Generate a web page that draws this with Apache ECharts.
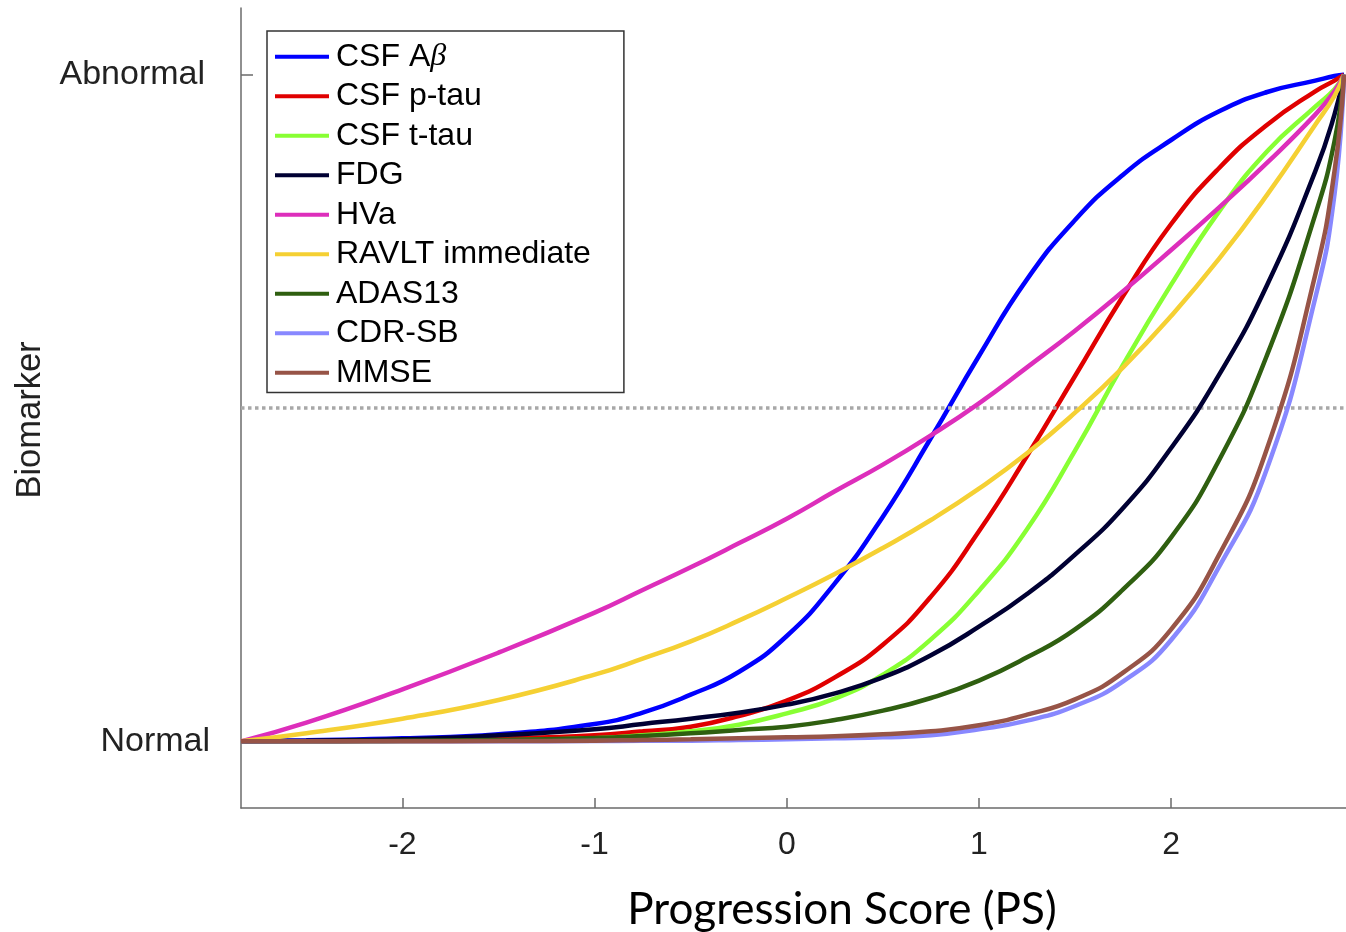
<!DOCTYPE html>
<html>
<head>
<meta charset="utf-8">
<title>Biomarker trajectories vs Progression Score</title>
<script src="https://cdn.jsdelivr.net/npm/echarts@6/dist/echarts.min.js"></script>
<style>
  html, body { margin: 0; padding: 0; background: #fff; }
  #chart { width: 1346px; height: 932px; }
</style>
</head>
<body>
<div id="chart"></div>
<script>
// Progression Score sample positions
const PS = [-2.84, -2.5, -2, -1.5, -1, -0.75, -0.5, -0.25, 0, 0.25, 0.5, 0.75, 1, 1.25, 1.5, 1.75, 2, 2.25, 2.5, 2.75, 2.85, 2.9];

// Normalised biomarker level (0 = normal, 1 = abnormal) at each PS position
const csfAbeta   = [0, 0.0015, 0.0045, 0.0105, 0.026, 0.043, 0.070, 0.104, 0.158, 0.237, 0.337, 0.455, 0.578, 0.693, 0.782, 0.850, 0.902, 0.945, 0.974, 0.991, 0.998, 1.0];
const csfPtau    = [0, 0, 0.0015, 0.004, 0.009, 0.015, 0.022, 0.038, 0.061, 0.096, 0.145, 0.217, 0.315, 0.428, 0.548, 0.668, 0.776, 0.860, 0.925, 0.975, 0.991, 1.0];
const csfTtau    = [0, 0, 0.0005, 0.0015, 0.0045, 0.009, 0.015, 0.025, 0.042, 0.064, 0.100, 0.153, 0.226, 0.318, 0.436, 0.565, 0.685, 0.795, 0.885, 0.952, 0.978, 1.0];
const fdg        = [0, 0.001, 0.003, 0.009, 0.018, 0.026, 0.034, 0.043, 0.055, 0.072, 0.096, 0.129, 0.172, 0.221, 0.280, 0.350, 0.440, 0.550, 0.685, 0.855, 0.940, 1.0];
const hva        = [0, 0.028, 0.078, 0.133, 0.193, 0.227, 0.261, 0.297, 0.334, 0.375, 0.415, 0.459, 0.507, 0.561, 0.616, 0.675, 0.737, 0.801, 0.868, 0.940, 0.975, 1.0];
const ravlt      = [0, 0.012, 0.034, 0.062, 0.100, 0.124, 0.150, 0.181, 0.215, 0.251, 0.290, 0.332, 0.379, 0.432, 0.493, 0.561, 0.638, 0.724, 0.820, 0.925, 0.968, 1.0];
const adas13     = [0, 0, 0.001, 0.002, 0.005, 0.008, 0.012, 0.017, 0.022, 0.032, 0.046, 0.065, 0.091, 0.126, 0.168, 0.228, 0.306, 0.422, 0.580, 0.790, 0.900, 1.0];
const cdrsb      = [0, 0, 0, 0, 0.0005, 0.0008, 0.001, 0.002, 0.003, 0.0045, 0.006, 0.009, 0.018, 0.031, 0.053, 0.090, 0.152, 0.262, 0.410, 0.665, 0.820, 1.0];
const mmse       = [0, 0, 0, 0.0005, 0.001, 0.002, 0.003, 0.0045, 0.006, 0.0075, 0.0105, 0.015, 0.024, 0.040, 0.063, 0.103, 0.168, 0.280, 0.440, 0.700, 0.855, 1.0];

const SERIES_NAMES = ['CSF Aβ', 'CSF p-tau', 'CSF t-tau', 'FDG', 'HVa', 'RAVLT immediate', 'ADAS13', 'CDR-SB', 'MMSE'];
const SERIES_VALUES = [csfAbeta, csfPtau, csfTtau, fdg, hva, ravlt, adas13, cdrsb, mmse];
const SERIES_COLORS = ['#0000ff', '#e00000', '#88ff33', '#000033', '#dd2ebb', '#f5d033', '#2f5f10', '#8888ff', '#975447'];

// Axis ticks and labels
const X_TICKS = [-2, -1, 0, 1, 2];
const Y_TICKS = [0, 1];
const Y_TICK_NAMES = ['Normal', 'Abnormal'];
const HALFWAY = 0.5;

const AXIS_COLOR = '#6b6b6b';
const FONT = 'Liberation Sans, Arial, Helvetica, sans-serif';

const series = SERIES_NAMES.map((name, k) => ({
  name: name,
  type: 'line',
  data: PS.map((x, i) => [x, SERIES_VALUES[k][i]]),
  smooth: 0.5,
  showSymbol: false,
  symbol: 'none',
  lineStyle: { width: 4.5, color: SERIES_COLORS[k] },
  itemStyle: { color: SERIES_COLORS[k] },
  z: 3 + k
}));

// Dotted midpoint reference line
series.unshift({
  name: 'midpoint',
  type: 'line',
  data: [],
  silent: true,
  markLine: {
    silent: true,
    symbol: ['none', 'none'],
    label: { show: false },
    lineStyle: { color: '#a8a8a8', width: 3.5, type: [3.5, 3.5] },
    data: [{ yAxis: HALFWAY }]
  },
  z: 2
});

const chart = echarts.init(document.getElementById('chart'), null, { renderer: 'canvas' });
chart.setOption({
  animation: false,
  backgroundColor: '#ffffff',
  grid: { left: 241, right: 0, top: 8, bottom: 124, containLabel: false },
  title: {
    text: 'Progression Score (PS)',
    left: 837,
    top: 883,
    textAlign: 'center',
    textStyle: { fontFamily: 'Lato, sans-serif', fontWeight: 'normal', fontSize: 44, color: '#000000' }
  },
  legend: {
    data: SERIES_NAMES,
    orient: 'vertical',
    left: 267,
    top: 31,
    padding: [6, 33, 0, 8],
    itemGap: 0,
    itemWidth: 54,
    itemHeight: 4,
    icon: 'rect',
    borderColor: '#333333',
    borderWidth: 1.5,
    backgroundColor: '#ffffff',
    formatter: function (name) {
      if (name === 'CSF Aβ') return '{t|CSF A}{g|β}';
      return '{t|' + name + '}';
    },
    textStyle: {
      color: '#000000',
      fontFamily: FONT,
      fontSize: 32,
      lineHeight: 39.5,
      padding: [0, 0, 0, 2],
      rich: {
        t: { fontFamily: FONT, fontSize: 32, color: '#000000', lineHeight: 39.5 },
        g: { fontFamily: 'Liberation Serif, DejaVu Serif, serif', fontStyle: 'italic', fontSize: 32, color: '#000000', lineHeight: 39.5 }
      }
    }
  },
  xAxis: {
    type: 'value',
    min: -2.84,
    max: 2.91,
    splitLine: { show: false },
    axisLine: { show: true, onZero: false, lineStyle: { color: AXIS_COLOR, width: 1.5 } },
    axisTick: { show: true, inside: true, length: 10, customValues: X_TICKS, lineStyle: { color: AXIS_COLOR, width: 1.5 } },
    axisLabel: {
      customValues: X_TICKS,
      margin: 21,
      fontFamily: FONT,
      fontSize: 32,
      color: '#222222',
      formatter: v => String(v)
    }
  },
  yAxis: {
    type: 'value',
    min: -0.1,
    max: 1.1,
    name: 'Biomarker',
    nameLocation: 'middle',
    nameGap: 193,
    nameRotate: 90,
    nameTextStyle: { fontFamily: FONT, fontSize: 34.5, color: '#222222', padding: [0, 0, 0, -24] },
    splitLine: { show: false },
    axisLine: { show: true, onZero: false, lineStyle: { color: AXIS_COLOR, width: 1.5 } },
    axisTick: { show: true, inside: true, length: 12, customValues: Y_TICKS, lineStyle: { color: AXIS_COLOR, width: 1.5 } },
    axisLabel: {
      customValues: Y_TICKS,
      margin: 31,
      fontFamily: FONT,
      fontSize: 34,
      color: '#222222',
      formatter: v => v === 1 ? '{a|' + Y_TICK_NAMES[1] + '}' : '{n|' + Y_TICK_NAMES[0] + '}',
      rich: {
        a: { fontFamily: FONT, fontSize: 34, color: '#222222', padding: [0, 5, 0, 0] },
        n: { fontFamily: FONT, fontSize: 34, color: '#222222' }
      }
    }
  },
  series: series
});
</script>
</body>
</html>
